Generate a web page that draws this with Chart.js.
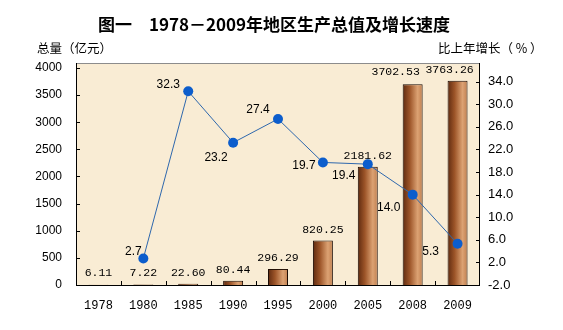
<!DOCTYPE html>
<html>
<head>
<meta charset="utf-8">
<script src="https://cdn.jsdelivr.net/npm/chart.js@4"></script>
<style>
  html, body { margin: 0; padding: 0; background: #fff; }
</style>
</head>
<body>
<canvas id="gdpChart" width="563" height="330"></canvas>
<script>
// chart data
const years = ["1978", "1980", "1985", "1990", "1995", "2000", "2005", "2008", "2009"];
const gdpTotal = [6.11, 7.22, 22.60, 80.44, 296.29, 820.25, 2181.62, 3702.53, 3763.26];
const growthRate = [null, 2.7, 32.3, 23.2, 27.4, 19.7, 19.4, 14.0, 5.3];
const leftTicks = [0, 500, 1000, 1500, 2000, 2500, 3000, 3500, 4000];
const rightTicks = [-2, 2, 6, 10, 14, 18, 22, 26, 30, 34];

const chartTitle = "图一　1978－2009年地区生产总值及增长速度";
const leftTitle = "总量（亿元）";
const rightTitle = "比上年增长（ % ）";

// label nudges (x, y) relative to the bar top / point
const barLabelOffsets = [[0, -11], [0, -11], [0, -11], [0, -11], [0, -11], [0, -11], [0, -11], [-17, -12], [-8, -11]];
const growthLabelOffsets = [null, [-10, -7], [-20, -7], [-17, 15], [-20, -9], [-19, 3], [-24, 12], [-24, 13], [-27, 8]];

const BAR_PCT = 0.445;

function barGradient(context) {
  const chart = context.chart;
  const xs = chart.scales && chart.scales.x;
  const area = chart.chartArea;
  if (!xs || !area || context.dataIndex === undefined) return "#a65a2c";
  const cx = xs.getPixelForValue(context.dataIndex);
  const w = (area.right - area.left) / years.length * BAR_PCT;
  if (!isFinite(cx) || !isFinite(w)) return "#a65a2c";
  const g = chart.ctx.createLinearGradient(cx - w / 2, 0, cx + w / 2, 0);
  g.addColorStop(0, "#5e2a10");
  g.addColorStop(0.35, "#9c5428");
  g.addColorStop(0.75, "#dca273");
  g.addColorStop(1, "#c07e4e");
  return g;
}

const decorPlugin = {
  id: "decor",
  beforeDatasetsDraw(chart) {
    const { ctx, chartArea: a } = chart;
    ctx.save();
    ctx.fillStyle = "#f9ecd4";
    ctx.fillRect(a.left, a.top, a.right - a.left, a.bottom - a.top);
    ctx.restore();
  },
  afterDatasetsDraw(chart) {
    const { ctx, chartArea: a, scales } = chart;
    ctx.save();
    // frame
    ctx.lineWidth = 1;
    ctx.strokeStyle = "#8c8c8c";
    ctx.beginPath();
    ctx.moveTo(a.left, a.top + 0.5);
    ctx.lineTo(a.right, a.top + 0.5);
    ctx.stroke();
    ctx.strokeStyle = "#000";
    ctx.beginPath();
    ctx.moveTo(a.left + 0.5, a.top);
    ctx.lineTo(a.left + 0.5, a.bottom + 0.5);
    ctx.lineTo(a.right - 0.5, a.bottom + 0.5);
    ctx.lineTo(a.right - 0.5, a.top);
    ctx.stroke();

    // inner tick marks
    ctx.beginPath();
    leftTicks.forEach(v => {
      const y = Math.round(scales.y.getPixelForValue(v)) + 0.5;
      ctx.moveTo(a.left, y);
      ctx.lineTo(a.left + 4, y);
    });
    rightTicks.forEach(v => {
      const y = Math.round(scales.y1.getPixelForValue(v)) + 0.5;
      ctx.moveTo(a.right - 4, y);
      ctx.lineTo(a.right, y);
    });
    const step = (a.right - a.left) / years.length;
    for (let i = 1; i < years.length; i++) {
      const x = Math.round(a.left + i * step) + 0.5;
      ctx.moveTo(x, a.bottom);
      ctx.lineTo(x, a.bottom - 4);
    }
    ctx.stroke();
    ctx.restore();
  },
  afterDraw(chart) {
    const { ctx } = chart;
    ctx.save();
    ctx.fillStyle = "#000";
    ctx.textBaseline = "middle";

    // bar value labels
    ctx.font = "11.5px 'Liberation Mono'";
    ctx.textAlign = "center";
    chart.getDatasetMeta(0).data.forEach((bar, i) => {
      const off = barLabelOffsets[i];
      const y = Math.min(bar.y + off[1], 273);
      ctx.fillText(gdpTotal[i].toFixed(2), bar.x + off[0], y);
    });

    // growth labels
    ctx.font = "12px 'Liberation Sans', Arial";
    chart.getDatasetMeta(1).data.forEach((pt, i) => {
      if (growthRate[i] === null) return;
      const off = growthLabelOffsets[i];
      ctx.fillText(growthRate[i].toFixed(1), pt.x + off[0], pt.y + off[1]);
    });

    // titles
    ctx.font = "bold 17px 'Noto Sans CJK SC'";
    ctx.fillText(chartTitle, 274, 25);
    ctx.font = "12.5px 'Noto Sans CJK SC'";
    ctx.textAlign = "left";
    ctx.fillText(leftTitle, 37, 48);
    ctx.fillText(rightTitle, 438, 48);
    ctx.restore();
  }
};

const ctx = document.getElementById("gdpChart").getContext("2d");

new Chart(ctx, {
  data: {
    labels: years,
    datasets: [
      {
        type: "bar",
        data: gdpTotal,
        yAxisID: "y",
        order: 1,
        backgroundColor: barGradient,
        borderColor: "#1a0a02",
        borderWidth: 1,
        barPercentage: BAR_PCT,
        categoryPercentage: 1
      },
      {
        type: "line",
        data: growthRate,
        yAxisID: "y1",
        order: 0,
        borderColor: "#2f68ad",
        borderWidth: 1,
        pointRadius: 5,
        pointBackgroundColor: "#0c5dcc",
        pointBorderWidth: 0,
        tension: 0
      }
    ]
  },
  options: {
    responsive: false,
    animation: false,
    devicePixelRatio: 1,
    layout: { padding: { top: 63, left: 0, right: 0, bottom: 0 } },
    plugins: {
      legend: { display: false },
      tooltip: { enabled: false }
    },
    scales: {
      x: {
        grid: { display: false, drawTicks: false },
        border: { display: false },
        ticks: {
          color: "#000",
          padding: 14,
          font: { family: "'Liberation Mono'", size: 12 }
        },
        afterFit: scale => { scale.height = 45; }
      },
      y: {
        position: "left",
        min: 0,
        max: 4092,
        grid: { display: false, drawTicks: false },
        border: { display: false },
        ticks: {
          color: "#000",
          padding: 14,
          font: { family: "'Liberation Sans', Arial", size: 12 },
          callback: v => String(v)
        },
        afterBuildTicks: scale => { scale.ticks = leftTicks.map(v => ({ value: v })); },
        afterFit: scale => { scale.width = 76; }
      },
      y1: {
        position: "right",
        min: -2,
        max: 37.31,
        grid: { display: false, drawTicks: false },
        border: { display: false },
        ticks: {
          color: "#000",
          padding: 8,
          font: { family: "'Liberation Sans', Arial", size: 13 },
          callback: v => v.toFixed(1)
        },
        afterBuildTicks: scale => { scale.ticks = rightTicks.map(v => ({ value: v })); },
        afterFit: scale => { scale.width = 83; }
      }
    }
  },
  plugins: [decorPlugin]
});
</script>
</body>
</html>
